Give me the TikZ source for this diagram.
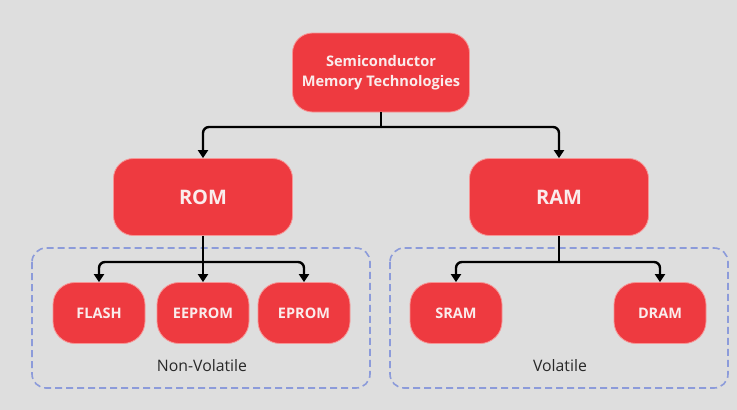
\documentclass[tikz,border=0pt]{standalone}
\usepackage{fontspec}
\setmainfont{Open Sans}
\usetikzlibrary{arrows.meta}
\definecolor{bg}{RGB}{222,222,222}
\definecolor{boxred}{RGB}{238,58,64}
\definecolor{boxedge}{RGB}{246,150,150}
\definecolor{boxtext}{RGB}{250,236,236}
\definecolor{grp}{RGB}{140,155,218}
\definecolor{lbl}{RGB}{40,40,40}
\tikzset{
  box/.style={draw=boxedge, line width=0.8pt, fill=boxred, text=boxtext, font=\bfseries, align=center, inner sep=0pt},
  topbox/.style={box, minimum width=177pt, minimum height=79pt, rounded corners=20pt, font=\bfseries\fontsize{14.6}{19.5}\selectfont},
  midbox/.style={box, minimum width=179pt, minimum height=77pt, rounded corners=20pt, font=\bfseries\fontsize{20}{23}\selectfont},
  leafbox/.style={box, minimum width=92pt, minimum height=61pt, rounded corners=22pt, font=\bfseries\fontsize{14.5}{17}\selectfont},
  conn/.style={draw=black, line width=2.4pt, rounded corners=6pt},
  arr/.style={conn, -{Triangle[length=8pt,width=10pt]}},
  grpbox/.style={draw=grp, line width=1.6pt, dash pattern=on 7pt off 4pt, rounded corners=14pt},
  grplbl/.style={text=lbl, font=\fontsize{15.8}{18}\selectfont}
}
\begin{document}
\begin{tikzpicture}[x=1pt,y=-1pt]
\fill[bg] (0,0) rectangle (737,410);
\useasboundingbox (0,0) rectangle (737,410);

\draw[grpbox] (32,248) rectangle (370,388);
\draw[grpbox] (390,248) rectangle (728,388);

\node[topbox] (top) at (381,72.5) {Semiconductor\\Memory Technologies};
\node[midbox] (rom) at (203,197) {ROM};
\node[midbox] (ram) at (559,197) {RAM};

\node[leafbox] (flash) at (99,313) {FLASH};
\node[leafbox] (eeprom) at (203,313) {EEPROM};
\node[leafbox] (eprom) at (304,313) {EPROM};
\node[leafbox] (sram) at (456,313) {SRAM};
\node[leafbox] (dram) at (660,313) {DRAM};

\node[grplbl] (nv) at (202,366) {Non-Volatile};
\node[grplbl] (vo) at (560,366) {Volatile};

\coordinate (j1) at (381,127);
\coordinate (j2) at (203,262);
\coordinate (j3) at (559,262);

\draw[conn] (top.south) -- (j1);
\draw[arr] (j1) -| (rom.north);
\draw[arr] (j1) -| (ram.north);

\draw[conn] (rom.south) -- (j2);
\draw[arr] (j2) -| (flash.north);
\draw[arr] (j2) -| (eprom.north);
\draw[arr] (rom.south) -- (eeprom.north);

\draw[conn] (ram.south) -- (j3);
\draw[arr] (j3) -| (sram.north);
\draw[arr] (j3) -| (dram.north);
\end{tikzpicture}
\end{document}
